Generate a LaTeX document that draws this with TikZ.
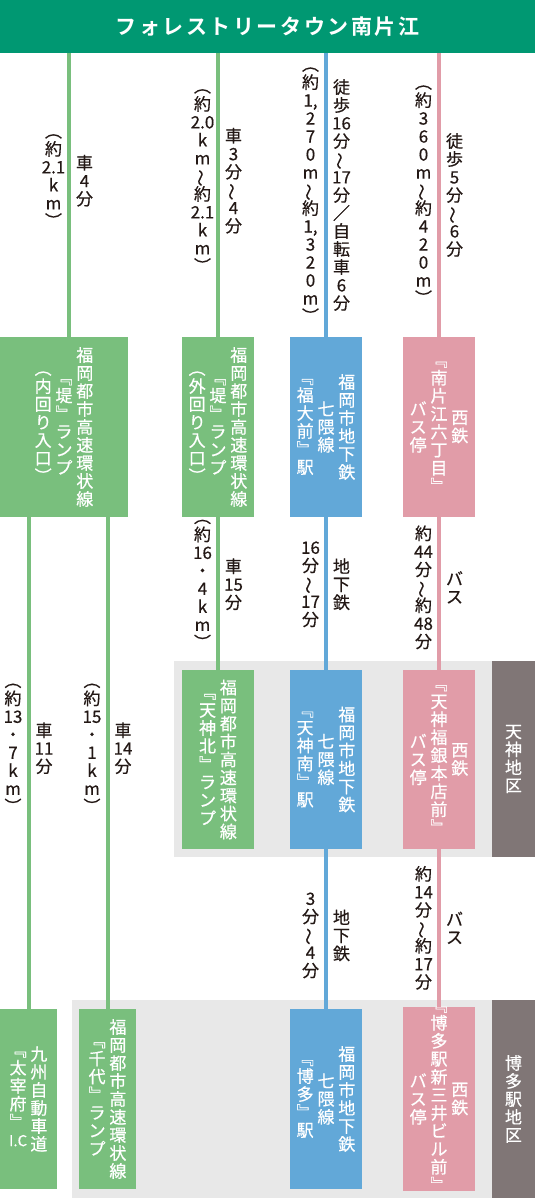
\documentclass[tikz,border=0pt]{standalone}
\usepackage{fontspec}
\usetikzlibrary{positioning}
\setmainfont{Noto Sans CJK JP}[FakeBold=0.5]
\newfontfamily\titlefont{Noto Sans CJK JP Bold}[LetterSpace=12]

\definecolor{hdrgreen}{RGB}{0,152,114}
\definecolor{rampgreen}{RGB}{121,191,125}
\definecolor{subblue}{RGB}{98,168,216}
\definecolor{buspink}{RGB}{225,156,168}
\definecolor{bandgray}{RGB}{232,232,232}
\definecolor{areagray}{RGB}{128,118,118}
\definecolor{ink}{RGB}{35,24,21}

%vertical text, one glyph (or braced group) per cell
\newlength\tcolw \setlength\tcolw{17pt}
\let\tcolend\relax
\def\tcolendmark{\tcolend}
\def\tcolloop#1{\def\tcolarg{#1}%
  \ifx\tcolarg\tcolendmark\else
    \hbox to\tcolw{\hss#1\hss}%
    \expandafter\tcolloop
  \fi}
\newcommand\tcol[1]{$\vcenter{\baselineskip=18pt\lineskiplimit=-\maxdimen
  \tcolloop#1\tcolend}$}
\newcommand\wv{\rotatebox[origin=c]{90}{～}}
\newcommand\tsep{\hspace{3.8pt}}

\begin{document}
\begin{tikzpicture}[x=1pt,y=-1pt,
  hdr/.style={fill=hdrgreen,text=white,minimum width=535,minimum height=53,anchor=north west,inner sep=0,outer sep=0},
  area/.style={fill=bandgray,anchor=north west,inner sep=0,outer sep=0},
  areatag/.style={fill=areagray,text=white,minimum width=43,inner sep=0,outer sep=0,font=\fontsize{17}{18}\selectfont},
  stopbox/.style={text=white,minimum height=180,inner sep=0,outer sep=0,font=\fontsize{17}{18}\selectfont},
  gbox/.style={stopbox,fill=rampgreen},
  bbox/.style={stopbox,fill=subblue,minimum width=72},
  pbox/.style={stopbox,fill=buspink,minimum width=72},
  route/.style={line width=4pt},
  lblR/.style={anchor=west,xshift=5pt,text=ink,inner sep=0,font=\fontsize{17}{18}\selectfont},
  lblL/.style={anchor=east,xshift=-5pt,text=ink,inner sep=0,font=\fontsize{17}{18}\selectfont}]
\useasboundingbox (0,0) rectangle (535,1198);
%header
\node[hdr] (hdr) at (0,0) {\titlefont\fontsize{21}{21}\selectfont フォレストリータウン南片江};
%areas
\node[area,minimum width=318,minimum height=196] (tenjin) at (174,661) {};
\node[areatag,minimum height=196,right=0pt of tenjin] (tenjintag) {\tcol{天神地区}};
\node[area,minimum width=420,minimum height=198] (hakata) at (72,1000) {};
\node[areatag,minimum height=198,right=0pt of hakata] (hakatatag) {\tcol{博多駅地区}};
%stops
\node[gbox,minimum width=128] (b1) at (64,427) {\tcol{︵内回り入口︶}\tsep\tcol{﹃堤﹄ランプ}\tsep\tcol{福岡都市高速環状線}};
\node[gbox,minimum width=72] (b2) at (218,427) {\tcol{︵外回り入口︶}\tsep\tcol{﹃堤﹄ランプ}\tsep\tcol{福岡都市高速環状線}};
\node[bbox] (b3) at (326,427) {\tcol{﹃福大前﹄駅}\tsep\tcol{七隈線}\tsep\tcol{福岡市地下鉄}};
\node[pbox] (b4) at (439,427) {\tcol{バス停}\tsep\tcol{﹃南片江六丁目﹄}\tsep\tcol{西鉄}};
\node[gbox,minimum width=72,minimum height=179] (t2) at (218,759.5) {\tcol{﹃天神北﹄ランプ}\tsep\tcol{福岡都市高速環状線}};
\node[bbox,minimum height=179] (t3) at (326,759.5) {\tcol{﹃天神南﹄駅}\tsep\tcol{七隈線}\tsep\tcol{福岡市地下鉄}};
\node[pbox,minimum height=179] (t4) at (439,759.5) {\tcol{バス停}\tsep\tcol{﹃天神福銀本店前﹄}\tsep\tcol{西鉄}};
\node[gbox,minimum width=57] (dz) at (28.5,1099) {\tcol{﹃太宰府﹄{{\fontsize{15}{15}\selectfont I.C}}}\tsep\tcol{九州自動車道}};
\node[gbox,minimum width=57] (cy) at (107.5,1099) {\tcol{﹃千代﹄ランプ}\tsep\tcol{福岡都市高速環状線}};
\node[bbox] (h3) at (326,1099) {\tcol{﹃博多﹄駅}\tsep\tcol{七隈線}\tsep\tcol{福岡市地下鉄}};
\node[pbox] (h4) at (439,1099) {\tcol{バス停}\tsep\tcol{﹃博多駅新三井ビル前﹄}\tsep\tcol{西鉄}};
%routes from the top
\coordinate (xa) at (69,0);
\draw[route,rampgreen] (hdr.south -| xa) -- (b1.north -| xa)
  node[pos=.45,lblR]{\tcol{車4分}} node[pos=.45,lblL]{\tcol{︵約{2.1}km︶}};
\draw[route,rampgreen] (hdr.south -| b2) -- (b2)
  node[pos=.45,lblR]{\tcol{車3分\wv4分}} node[pos=.45,lblL]{\tcol{︵約{2.0}km\wv 約{2.1}km︶}};
\draw[route,subblue] (hdr.south -| b3) -- (b3)
  node[pos=.5,lblR]{\tcol{徒歩{16}分\wv{17}分／自転車6分}} node[pos=.5,lblL]{\tcol{︵約{1,}270m\wv 約{1,}320m︶}};
\draw[route,buspink] (hdr.south -| b4) -- (b4)
  node[pos=.5,lblR]{\tcol{徒歩5分\wv6分}} node[pos=.5,lblL]{\tcol{︵約360m\wv 約420m︶}};
%routes to tenjin
\draw[route,rampgreen] (b2) -- (t2)
  node[pos=.44,lblR]{\tcol{車{15}分}} node[pos=.44,lblL]{\tcol{︵約{16}・4km︶}};
\draw[route,subblue] (b3) -- (t3)
  node[pos=.44,lblR]{\tcol{地下鉄}} node[pos=.44,lblL]{\tcol{{16}分\wv{17}分}};
\draw[route,buspink] (b4) -- (t4)
  node[pos=.46,lblR]{\tcol{バス}} node[pos=.46,lblL]{\tcol{約{44}分\wv 約{48}分}};
%routes to hakata
\draw[route,rampgreen] (b1.south -| dz) -- (dz)
  node[pos=.47,lblR]{\tcol{車{11}分}} node[pos=.47,lblL]{\tcol{︵約{13}・7km︶}};
\draw[route,rampgreen] (b1.south -| cy) -- (cy)
  node[pos=.47,lblR]{\tcol{車{14}分}} node[pos=.47,lblL]{\tcol{︵約{15}・1km︶}};
\draw[route,subblue] (t3) -- (h3)
  node[pos=.54,lblR]{\tcol{地下鉄}} node[pos=.54,lblL]{\tcol{3分\wv4分}};
\draw[route,buspink] (t4) -- (h4)
  node[pos=.5,lblR]{\tcol{バス}} node[pos=.5,lblL]{\tcol{約{14}分\wv 約{17}分}};
\end{tikzpicture}
\end{document}
